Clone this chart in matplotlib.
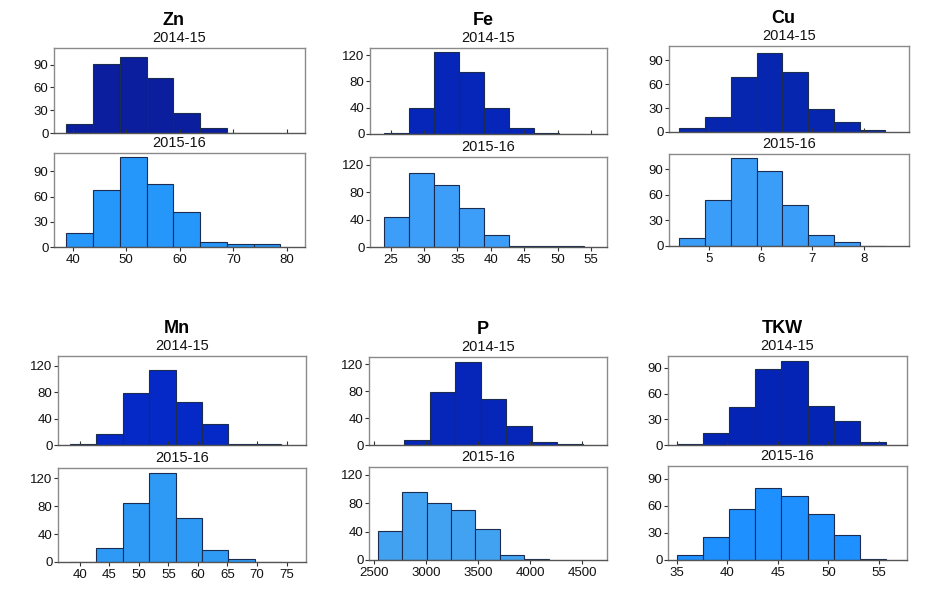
import numpy as np
import matplotlib
matplotlib.use("Agg")
import matplotlib.pyplot as plt

plt.rcParams["font.family"] = ["Liberation Sans", "DejaVu Sans"]

W, H = 928, 589

# bin edges and counts
zn_edges = [38.8, 43.8, 48.8, 53.8, 58.8, 63.8, 68.8, 73.8, 78.8]
zn_1415 = [12, 91, 100, 72, 27, 7, 0, 0]
zn_1516 = [17, 68, 107, 75, 42, 6, 3, 3]

fe_edges = [24.0, 27.75, 31.5, 35.25, 39.0, 42.75, 46.5, 50.25, 54.0]
fe_1415 = [1, 40, 125, 95, 40, 9, 1, 0]
fe_1516 = [43, 108, 90, 57, 18, 1, 1, 1]

cu_edges = [4.42, 4.92, 5.42, 5.92, 6.42, 6.92, 7.42, 7.92, 8.42]
cu_1415 = [5, 19, 69, 99, 75, 29, 12, 3]
cu_1516 = [9, 54, 103, 88, 48, 13, 5, 0]

mn_edges = [38.3, 42.77, 47.25, 51.72, 56.2, 60.67, 65.15, 69.62, 74.1]
mn_1415 = [2, 16, 79, 114, 65, 32, 1, 2]
mn_1516 = [0, 20, 85, 128, 63, 17, 5, 0]

p_edges_1415 = [2788, 3033, 3278, 3523, 3768, 4013, 4258, 4503]
p_1415 = [7, 79, 124, 68, 28, 4, 1]
p_edges_1516 = [2538, 2772, 3006, 3240, 3474, 3708, 3942, 4176]
p_1516 = [41, 96, 80, 70, 43, 7, 1]

tkw_edges = [35.0, 37.59, 40.17, 42.76, 45.35, 47.94, 50.52, 53.1, 55.69]
tkw_1415 = [1, 14, 44, 89, 98, 45, 28, 3]
tkw_1516 = [6, 25, 56, 80, 71, 51, 28, 1]

years = ["2014-15", "2015-16"]

panels = [
    dict(name="Zn", top=(zn_edges, zn_1415), bot=(zn_edges, zn_1516),
         xlim=(36.5, 83.4), xticks=[40, 50, 60, 70, 80], ylim=112, yticks=[0, 30, 60, 90],
         colors=("#0A1E9E", "#2596FA"), rects=((54, 48, 305, 133), (54, 153, 305, 247))),
    dict(name="Fe", top=(fe_edges, fe_1415), bot=(fe_edges, fe_1516),
         xlim=(21.9, 57.4), xticks=[25, 30, 35, 40, 45, 50, 55], ylim=131, yticks=[0, 40, 80, 120],
         colors=("#0526B8", "#3C9EF8"), rects=((370, 48, 607, 134), (370, 157, 607, 247))),
    dict(name="Cu", top=(cu_edges, cu_1415), bot=(cu_edges, cu_1516),
         xlim=(4.22, 8.88), xticks=[5, 6, 7, 8], ylim=108, yticks=[0, 30, 60, 90],
         colors=("#0626B0", "#3A9DF8"), rects=((669, 46, 909, 132), (669, 154, 909, 246))),
    dict(name="Mn", top=(mn_edges, mn_1415), bot=(mn_edges, mn_1516),
         xlim=(36.3, 78.3), xticks=[40, 45, 50, 55, 60, 65, 70, 75], ylim=135, yticks=[0, 40, 80, 120],
         colors=("#0429C6", "#2E9AF5"), rects=((58, 356, 306, 445), (58, 468, 306, 562))),
    dict(name="P", top=(p_edges_1415, p_1415), bot=(p_edges_1516, p_1516),
         xlim=(2452, 4737), xticks=[2500, 3000, 3500, 4000, 4500], ylim=131, yticks=[0, 40, 80, 120],
         colors=("#0526B8", "#42A2F2"), rects=((369, 357, 607, 445), (369, 467, 607, 560))),
    dict(name="TKW", top=(tkw_edges, tkw_1415), bot=(tkw_edges, tkw_1516),
         xlim=(34.1, 57.8), xticks=[35, 40, 45, 50, 55], ylim=104, yticks=[0, 30, 60, 90],
         colors=("#0424B5", "#1E90FF"), rects=((668, 356, 907, 445), (668, 466, 907, 560))),
]

fig = plt.figure(figsize=(W / 100, H / 100), dpi=100)
fig.patch.set_facecolor("white")


def px_rect(r):
    l, t, rr, b = r
    return [l / W, 1 - b / H, (rr - l) / W, (b - t) / H]


for p in panels:
    for i, key in enumerate(["top", "bot"]):
        edges, counts = p[key]
        edges = np.asarray(edges, dtype=float)
        ax = fig.add_axes(px_rect(p["rects"][i]))
        ax.bar(edges[:-1], counts, width=np.diff(edges), align="edge",
               color=p["colors"][i], edgecolor="#1b2c50", linewidth=0.8)
        ax.set_xlim(*p["xlim"])
        ax.set_ylim(0, p["ylim"])
        ax.set_xticks(p["xticks"])
        ax.set_yticks(p["yticks"])
        ax.tick_params(axis="y", labelsize=9.5, length=3, width=0.8, pad=1, colors="#333333",
                       labelcolor="#111111")
        if key == "top":
            ax.tick_params(axis="x", direction="in", length=3, labelbottom=False, colors="#333333")
        else:
            ax.tick_params(axis="x", labelsize=9.5, length=3, width=0.8, pad=2, colors="#333333",
                           labelcolor="#111111")
        for s in ["top", "right", "left"]:
            ax.spines[s].set_color("#8a8a8a")
            ax.spines[s].set_linewidth(1.0)
        ax.spines["bottom"].set_color("#555555")
        ax.spines["bottom"].set_linewidth(1.0)
        ax.annotate(years[i], xy=(0.5, 1), xycoords="axes fraction",
                    xytext=(0, 7.5), textcoords="offset points",
                    ha="center", va="center", fontsize=10.5, color="#111111")
        if key == "top":
            ax.annotate(p["name"], xy=(0.5, 1), xycoords="axes fraction",
                        xytext=(-4, 19.5), textcoords="offset points",
                        ha="center", va="center", fontsize=13, fontweight="bold")

fig.savefig("out.png", dpi=100, facecolor="white")
